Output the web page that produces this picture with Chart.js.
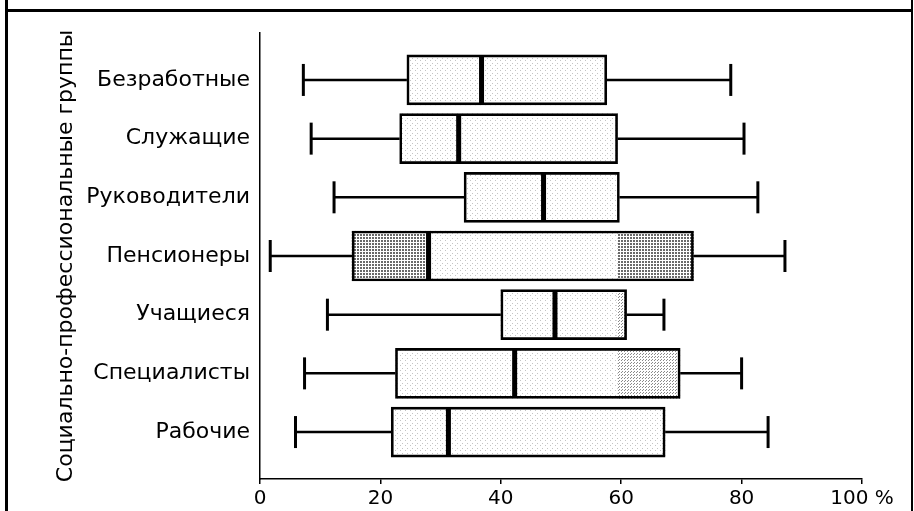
<!DOCTYPE html>
<html>
<head>
<meta charset="utf-8">
<script src="https://cdn.jsdelivr.net/npm/chart.js@4.4.0/dist/chart.umd.min.js"></script>
<style>
  html, body { margin: 0; padding: 0; background: #fff; }
  #wrap { width: 914px; height: 511px; position: relative; }
</style>
</head>
<body>
<div id="wrap"><canvas id="chart"></canvas></div>
<script>
// Groups, from top to bottom
const groups = ['Безработные', 'Служащие', 'Руководители', 'Пенсионеры', 'Учащиеся', 'Специалисты', 'Рабочие'];

// Box plot values, %
const mins    = [7.2, 8.5, 12.3, 1.7, 11.2, 7.4, 5.9];
const q1s     = [24.4, 23.2, 33.9, 15.3, 40.0, 22.5, 21.8];
const medians = [36.8, 33.0, 47.1, 28.0, 49.0, 42.3, 31.3];
const q3s     = [57.6, 59.4, 59.7, 72.0, 60.9, 69.8, 67.3];
const maxs    = [78.2, 80.4, 82.7, 87.2, 67.1, 80.0, 84.4];

// Denser stippled parts inside some boxes (null = none)
const shadeDark   = [null, null, null, [15.3, 28.0], null, null, null];
const shadeDark2  = [null, null, null, [59.5, 72.0], null, null, null];
const shadeMedium = [null, null, null, null, [59.3, 60.9], [59.5, 69.8], null];

const xTicks = [0, 20, 40, 60, 80, 100];

// Dot patterns for the box fills
function makePattern(size, dots, color) {
    const c = document.createElement('canvas');
    c.width = size;
    c.height = size;
    const g = c.getContext('2d');
    g.fillStyle = '#fff';
    g.fillRect(0, 0, size, size);
    g.fillStyle = color;
    dots.forEach(([x, y]) => g.fillRect(x, y, 1, 1));
    return g.createPattern(c, 'repeat');
}

const lightFill  = makePattern(5, [[0, 0], [2, 3]], '#c4c4c4');
const mediumFill = makePattern(3, [[0, 0], [1, 2]], '#8a8a8a');
const darkFill   = makePattern(3, [[0, 0], [1, 0], [0, 1], [1, 1]], '#6a6a6a');

function toBars(ranges) {
    return ranges.map((r, i) => r && { y: i, x: r }).filter(Boolean);
}

const boxes = groups.map((g, i) => ({ y: i, x: [q1s[i], q3s[i]] }));

// Whiskers and medians, drawn through the chart scales
const boxExtras = {
    id: 'boxExtras',
    afterDatasetsDraw(chart) {
        const { ctx, scales: { x, y } } = chart;
        const seg = (x1, y1, x2, y2, w) => {
            ctx.lineWidth = w;
            ctx.beginPath();
            ctx.moveTo(x1, y1);
            ctx.lineTo(x2, y2);
            ctx.stroke();
        };
        ctx.save();
        ctx.strokeStyle = '#000';
        groups.forEach((g, i) => {
            const cy = y.getPixelForValue(i);
            const xMin = x.getPixelForValue(mins[i]);
            const xQ1 = x.getPixelForValue(q1s[i]);
            const xQ3 = x.getPixelForValue(q3s[i]);
            const xMax = x.getPixelForValue(maxs[i]);
            const xMed = x.getPixelForValue(medians[i]);
            seg(xMin, cy, xQ1, cy, 2.5);
            seg(xQ3, cy, xMax, cy, 2.5);
            seg(xMin, cy - 16, xMin, cy + 16, 3);
            seg(xMax, cy - 16, xMax, cy + 16, 3);
            seg(xMed, cy - 24, xMed, cy + 24, 5);
        });
        ctx.restore();
    }
};

// White page and the table frame round the figure
const frame = {
    id: 'frame',
    beforeDraw(chart) {
        const { ctx, width, height } = chart;
        ctx.save();
        ctx.fillStyle = '#fff';
        ctx.fillRect(0, 0, width, height);
        ctx.fillStyle = '#000';
        ctx.fillRect(5, 0, 3, height);
        ctx.fillRect(911, 0, 2, height);
        ctx.fillRect(5, 9, 908, 3);
        ctx.restore();
    }
};

const labelFont = { family: 'DejaVu Sans', size: 22 };

new Chart(document.getElementById('chart'), {
    type: 'bar',
    data: {
        datasets: [
            {
                data: boxes,
                backgroundColor: 'rgba(0,0,0,0)',
                borderColor: '#000',
                borderWidth: 2,
                borderSkipped: false,
                order: 1
            },
            { data: toBars(shadeDark), backgroundColor: darkFill, borderWidth: 0, order: 2 },
            { data: toBars(shadeDark2), backgroundColor: darkFill, borderWidth: 0, order: 2 },
            { data: toBars(shadeMedium), backgroundColor: mediumFill, borderWidth: 0, order: 2 },
            { data: boxes, backgroundColor: lightFill, borderWidth: 0, order: 3 }
        ]
    },
    options: {
        indexAxis: 'y',
        responsive: true,
        maintainAspectRatio: false,
        animation: false,
        grouped: false,
        barThickness: 50,
        layout: { padding: { top: 33, right: 52, bottom: 0, left: 0 } },
        plugins: {
            legend: { display: false },
            tooltip: { enabled: false }
        },
        scales: {
            x: {
                type: 'linear',
                min: 0,
                max: 100,
                afterBuildTicks: s => { s.ticks = xTicks.map(v => ({ value: v })); },
                ticks: {
                    callback: v => v === 100 ? '100 %' : String(v),
                    font: { family: 'DejaVu Sans', size: 20 },
                    color: '#000',
                    padding: 3,
                    maxRotation: 0
                },
                grid: { drawOnChartArea: false, drawTicks: true, tickLength: 5, color: '#000', lineWidth: 1.5 },
                border: { display: true, color: '#000', width: 1.5 },
                afterFit: s => { s.height = 32; }
            },
            y: {
                type: 'linear',
                reverse: true,
                offset: false,
                min: -0.8,
                max: 6.8,
                afterBuildTicks: s => { s.ticks = groups.map((g, i) => ({ value: i })); },
                ticks: {
                    callback: v => groups[v],
                    font: labelFont,
                    color: '#000',
                    padding: 10
                },
                grid: { display: false, drawTicks: false, offset: false },
                border: { display: true, color: '#000', width: 1.5 },
                title: {
                    display: true,
                    text: 'Социально-профессиональные группы',
                    font: { family: 'DejaVu Sans', size: 22 },
                    color: '#000',
                    padding: { top: 53, bottom: 0 }
                },
                afterFit: s => { s.width = 260; }
            }
        }
    },
    plugins: [frame, boxExtras]
});
</script>
</body>
</html>
